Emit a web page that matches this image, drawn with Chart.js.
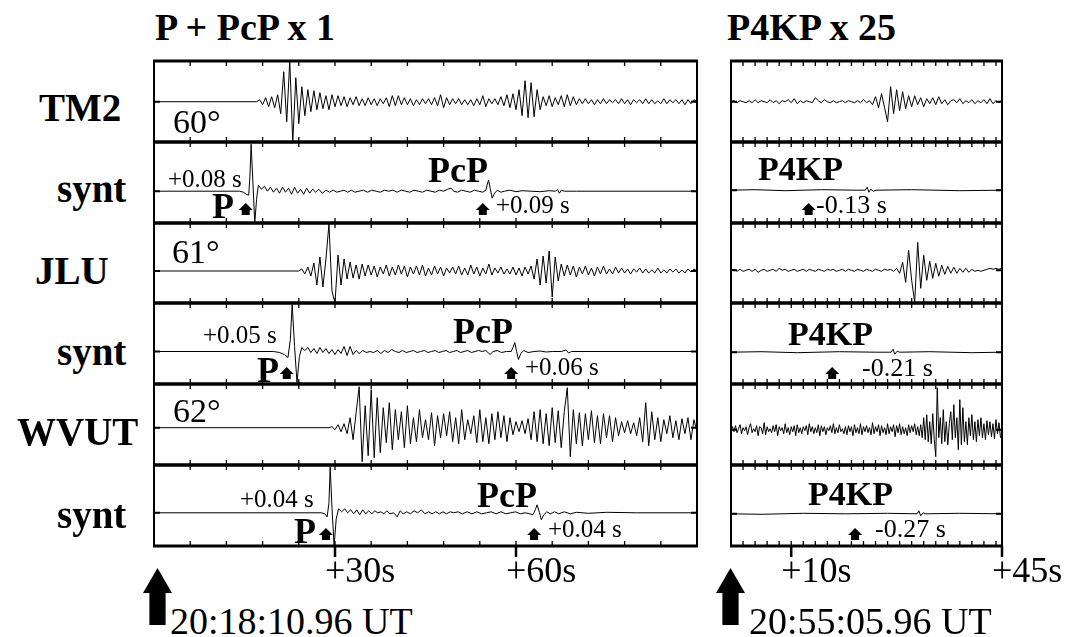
<!DOCTYPE html>
<html>
<head>
<meta charset="utf-8">
<script src="https://cdn.jsdelivr.net/npm/chart.js@4.4.1/dist/chart.umd.min.js"></script>
<style>
  body { margin: 0; background: #fff; }
  #fig { position: relative; width: 1074px; height: 637px; overflow: hidden;
         font-family: "Liberation Serif", "Times New Roman", serif; color: #000; }
  #fig canvas { position: absolute; }
  .t { position: absolute; white-space: nowrap; line-height: 1; }
  .bigArrow { position: absolute; background: #000;
              clip-path: polygon(50% 0, 100% 44%, 78% 44%, 78% 100%, 22% 100%, 22% 44%, 0 44%); }
</style>
</head>
<body>
<div id="fig"></div>
<script>
// ---- data: time axis labels ----
const leftTickVals = [30, 60];
const leftTickLabels = ['+30s', '+60s'];
const rightTickVals = [10, 45];
const rightTickLabels = ['+10s', '+45s'];

// ---- observed traces, P + PcP window (s after 20:18:10.96), sampled every 0.5 s ----
const tm2Start = 17;
const tm2Amp = [
  0, 2, -3, 4, -5, 5, -6, 7, -12, 30,
  -20, 41, -41, 24, -22, 15, -14, 12, -10, 11,
  -8, 9, -7, 6, -8, 7, -5, 6, -4, 5,
  -5, 4, -3, 5, -4, 3, -4, 4, -3, 3,
  -4, 3, -2, 4, -5, 6, -4, 6, -3, 4,
  -3, 3, -4, 2, -3, 3, -2, 3, -3, 4,
  -4, 7, -6, 4, -3, 3, -2, 3, -3, 2,
  -3, 2, -4, 3, -3, 6, -5, 3, -2, 3,
  -3, 5, -4, 7, -6, 8, -8, 12, -14, 21,
  -16, 19, -15, 12, -8, 5, -4, 6, -5, 4,
  -3, 6, -5, 7, -4, 5, -3, 3, -2, 3,
  -2, 2, -3, 2, -2, 3, -2, 2, -1, 2,
  -2, 3, -2, 2, -3, 2, -1, 2, -2, 3,
  -2, 2, -2, 1, -2, 3, -2, 2, -1, 2,
  -2, 2, -3, 2, -2, 2, 0
];
const jluStart = 24;
const jluAmp = [
  0, 2, -3, 4, -5, 8, -14, 14, -16, 12,
  47, -20, -32, 16, -14, 12, -8, 9, -7, 6,
  -8, 7, -5, 6, -4, 5, -6, 4, -3, 6,
  -5, 4, -4, 6, -3, 5, -6, 4, -3, 5,
  -4, 6, -5, 3, -4, 5, -3, 4, -5, 3,
  -2, 4, -3, 5, -4, 3, -4, 6, -3, 4,
  -5, 3, -3, 7, -4, 3, -2, 4, -3, 2,
  -3, 4, -4, 3, -5, 4, -3, 5, -8, 12,
  -14, 15, -12, 20, -26, 14, -10, 7, -5, 6,
  -4, 5, -6, 4, -3, 5, -4, 3, -5, 4,
  -3, 5, -3, 2, -3, 4, -2, 3, -2, 2,
  -3, 2, -1, 3, -2, 2, -2, 1, -2, 3,
  -2, 1, -2, 2, -1, 2, -2, 1, -2, 2,
  -1, 2, 0
];
const wvutStart = 29;
const wvutAmp = [
  0, 1, -2, 3, -4, 4, -6, 10, -12, 15,
  41, -34, 22, -28, 38, -30, 30, -25, 20, -15,
  25, -22, 18, -12, 16, -20, 22, -16, 10, -14,
  18, -10, 8, -12, 15, -18, 12, -10, 14, -8,
  16, -14, 10, -16, 18, -12, 8, -6, 12, -15,
  18, -14, 10, -16, 14, -12, 16, -10, 12, -14,
  10, -7, 6, -4, 7, -6, 9, -12, 16, -14,
  18, -16, 14, -18, 20, -15, 17, -20, 16, 40,
  -29, 18, -16, 15, -18, 14, -12, 17, -15, 12,
  -16, 14, -10, 12, -14, 10, -8, 6, -5, 7,
  -6, 5, -8, 10, -14, 25, -18, 16, -12, 10,
  -14, 8, -6, 12, -10, 7, -12, 9, -6, 10,
  -12, 8, -4
];

// ---- synthetics, P + PcP window: [time s, amplitude] ----
const syntTM2 = [
  [0, 0], [14.2, 0], [14.8, -1], [15.3, -3], [15.7, -4], [15.9, 15], [16.1, 47], [16.4, 8], [16.7, -32],
  [17.0, -8], [17.3, 6], [17.8, 2], [18.3, 5], [18.8, 0], [19.3, 4], [19.8, -1], [20.3, 3], [20.8, -2],
  [21.3, 4], [21.8, -1], [22.3, 3], [22.8, -3], [23.3, 4], [23.8, -2], [24.3, 2], [24.8, -3], [25.3, 3],
  [25.8, -2], [26.3, 2], [26.8, -1], [27.3, 2], [27.9, -2], [28.5, 1], [29.1, -1], [29.7, 1], [30.3, -1],
  [30.9, 0], [31.5, 1], [32.1, -1], [32.7, 1], [33.3, -1], [34.0, 0], [34.7, 1], [35.4, -1], [36.1, 1],
  [36.8, 0], [37.5, -1], [38.2, 1], [38.9, 0], [39.6, 1], [40.3, -1], [41.0, 1], [41.7, 0], [42.4, -1],
  [43.1, 1], [43.8, 0], [44.5, -1], [45.2, 1], [45.9, 0], [46.6, -1], [47.3, 1], [48.0, 0], [48.7, 2],
  [49.2, 3], [49.7, 0], [50.3, -1], [51.0, 1], [51.7, 0], [52.4, -1], [53.1, 1], [53.8, 0], [54.5, -1],
  [55.0, 1], [55.2, 6], [55.45, 11], [55.75, 2], [56.05, -7], [56.45, -2], [56.9, 1], [57.5, -1],
  [58.1, 0], [59, 1], [60, -0.5], [61, 0.5], [62.5, 0], [64, -0.5], [65.5, 0.5], [66.5, 0], [66.9, 1.5],
  [67.2, -2], [67.5, 1], [68, 0], [70, 0], [90, 0]
];
const syntJLU = [
  [0, 0], [19.8, 0], [20.8, -1], [21.6, -3], [22.2, -6], [22.6, 12], [22.9, 47], [23.3, 5], [23.7, -31],
  [24.1, -5], [24.5, 4], [25.0, 1], [25.5, 4], [26.0, -1], [26.5, 3], [27.0, -2], [27.5, 4], [28.0, -1],
  [28.5, 3], [29.0, -2], [29.5, 2], [30.0, -3], [30.5, 2], [31.0, -2], [31.5, 5], [32.0, -4], [32.5, 5],
  [33.0, -3], [33.5, 1], [34.0, -2], [34.6, 1], [35.2, -1], [35.8, 0], [36.4, -1], [37.0, 1], [37.6, -2],
  [38.2, 1], [38.8, -1], [39.4, 2], [40.0, 0], [40.6, -1], [41.2, 1], [41.8, -1], [42.4, 0], [43.0, 1],
  [43.6, -1], [44.2, 0], [44.8, 1], [45.4, -1], [46.0, 0], [46.6, 1], [47.2, -1], [47.8, 0], [48.4, 1],
  [49.0, -1], [49.6, 0], [50.2, 1], [50.8, -1], [51.4, 0], [52.0, 1], [52.6, -1], [53.2, 0], [53.8, 1],
  [54.4, 0], [55.0, 1], [55.7, -3], [56.2, 0], [56.9, 1], [57.6, -1], [58.4, 0], [59.2, 0], [59.5, 4],
  [59.8, 9], [60.1, 0], [60.4, -8], [60.8, -2], [61.3, 1], [62, -1], [63, 0], [64, 0.5], [65, -0.5],
  [66, 0], [67.5, 0], [68.3, 1.5], [68.7, -1.5], [69.2, 0], [90, 0]
];
const syntWVUT = [
  [0, 0], [27.8, 0], [28.3, -1], [28.7, -4], [29.0, 10], [29.2, 46], [29.5, 5], [29.85, -33], [30.2, -6],
  [30.6, 4], [31.1, 1], [31.6, 4], [32.1, 0], [32.6, 3], [33.1, -1], [33.6, 3], [34.1, -2], [34.6, 3],
  [35.1, -1], [35.6, 2], [36.1, -1], [36.6, 2], [37.1, 0], [37.6, 1], [38.1, -1], [38.6, 2], [39.1, -1],
  [39.7, 0], [40.3, -4], [40.8, 2], [41.3, -1], [41.9, 1], [42.5, -1], [43.1, 2], [43.7, 0], [44.3, 3],
  [44.9, -1], [45.5, 1], [46.1, -1], [46.7, 1], [47.3, -1], [47.9, 1], [48.5, -1], [49.1, 1], [49.7, 0],
  [50.4, 1], [51.1, -1], [51.9, 1], [52.7, -1], [53.5, 1], [54.3, -1], [55.1, 0], [55.9, 1], [56.7, -1],
  [57.5, 1], [58.3, -1], [59.1, 0], [59.9, 1], [60.7, -1], [61.5, 0], [62.3, -1], [62.8, -2], [63.2, 3],
  [63.5, 8], [63.9, 0], [64.2, -7], [64.6, -2], [65.1, 1], [65.7, -1], [66.4, 1], [67.1, -1], [68, 1],
  [69, -1], [70, 0.5], [72, -0.5], [75, 0.5], [80, 0], [90, 0]
];

// ---- observed traces, P4KP window (s after 20:55:05.96) ----
const tm2P4Amp = [ // every 0.5 s
  0, 1, -1, 1, 0, -1, 1, -1, 2, -1,
  1, 0, -1, 2, -1, 1, -2, 1, 0, 2,
  -1, 3, -2, 1, -1, 1, 0, -1, 4, 1,
  -1, 2, 0, -1, 1, -1, 0, 1, -1, 1,
  0, -1, 1, -1, 2, -1, 1, -3, 5, -6,
  8, -6, -20, 15, -12, 12, -9, 10, -7, 6,
  -5, 6, -3, 4, -5, 3, -2, 4, -3, 5,
  -2, 2, -3, 1, 2, -1, 3, -2, 1, -1,
  2, -2, 1, -1, 2, -2, 3, -2, 1, -1,
  2
];
const jluP4Amp = [ // every 0.5 s
  0, 1, -1, 1, -1, 0, 1, -1, 1, -2,
  0, 1, -1, 0, 1, -1, 2, 0, 1, -1,
  0, 1, -1, 0, 1, -1, 1, 0, -1, 1,
  0, -1, 1, 0, 1, -1, 0, 1, -1, 1,
  0, -1, 1, 0, -1, 1, 0, -1, 1, 0,
  -1, 1, 0, 1, -1, 2, -3, 8, -12, 20,
  -10, -32, 28, -18, 15, -10, 9, -8, 7, -6,
  5, -4, 4, -3, 3, -3, 2, -2, 2, -2,
  1, -1, 0, -1, 0, 1, 2, 1, 2, 1,
  2
];
const wvutP4Amp = [ // every 0.25 s
  0, 3, -2, 4, -3, 1, 5, -4, 2, -1, 3, -5, 2, 6, -3, 1, -2, 4, -6, 3,
  2, -4, 7, -5, 3, -2, 1, -3, 4, -2, 5, -6, 3, -1, 2, -4, 6, -3, 2, -5,
  3, -2, 4, -6, 5, -3, 2, -4, 3, -1, 4, -5, 6, -2, 3, -4, 2, -3, 5, -6,
  4, -2, 3, -5, 2, -1, 4, -3, 6, -4, 2, -3, 5, -2, 1, -4, 3, -5, 4, -2,
  3, -6, 5, -3, 2, -4, 6, -5, 3, -2, 4, -3, 2, -5, 7, -4, 3, -2, 5, -6,
  4, -3, 2, -5, 6, -4, 3, -2, 5, -7, 4, -3, 6, -5, 3, -4, 2, -6, 5, -3,
  4, -2, 6, -5, 3, -6, 5, -8, 12, -10, 15, -12, 8, -14, 16, -10, -27, 42, -8, 12,
  -14, 20, -12, 8, -15, 6, 18, -10, 25, -8, 12, -20, 30, -15, 22, -12, 8, -15, 12, -6,
  15, -10, 8, -12, 10, -6, 12, -8, 6, -10, 9, -5, 8, -7, 6, -9, 10, -4, 7, -8,
  -8
];

// ---- synthetics, P4KP window: [time s, amplitude] ----
const syntP4TM2 = [[0, 0], [4, 0.5], [9, -0.5], [15, 0.5], [21, 0], [22.3, 0], [22.6, 3], [22.9, -2], [23.2, 1], [23.6, -1], [24.1, 0], [30, 0.5], [38, -0.5], [45, 0]];
const syntP4JLU = [[0, 0], [5, 0.5], [11, -0.5], [18, 0.5], [24, 0], [26.6, 0], [26.9, 3], [27.2, -2], [27.6, 1], [28.0, 0], [33, 0.5], [40, -0.5], [45, 0]];
const syntP4WVUT = [[0, 0], [5, -0.5], [12, 0.5], [19, 0], [26, 0.5], [30.9, 0], [31.2, 3], [31.5, -2], [31.9, 1], [32.3, 0], [38, 0.5], [45, 0]];

// ---- predicted arrival arrows (s) ----
const pcpArrows = [[15.2, 54.5], [22.0, 59.2], [28.5, 63.0]];
const p4kpArrows = [[12.9], [16.8], [20.6]];

// ---- helpers ----
const fig = document.getElementById('fig');
const sampled = (start, dt, amp) => {
  const pts = start > 0 ? [{ x: 0, y: 0 }] : [];
  amp.forEach((a, i) => pts.push({ x: start + i * dt, y: a }));
  return pts;
};
const paired = arr => arr.map(([x, y]) => ({ x, y }));

const rowEdges = [61, 142, 223, 303, 384, 465, 546];
const panels = {
  left: { x0: 154, x1: 697, tmax: 90, step: 6, base: [40.7, 49.2, 48, 48.5, 43.7, 47.8],
          ticks: leftTickVals, labels: leftTickLabels },
  right: { x0: 731, x1: 1002, tmax: 45, step: 2, base: [40.7, 48.2, 47.3, 49.2, 45.7, 48.8],
           ticks: rightTickVals, labels: rightTickLabels }
};
const arrowTip = [0, 61, 0, 64, 0, 63];

const framePlugin = {
  id: 'frame',
  afterDatasetsDraw(chart, args, o) {
    const { ctx, chartArea: a } = chart;
    const x = chart.scales.x, y = chart.scales.y;
    ctx.save();
    ctx.strokeStyle = '#000';
    ctx.fillStyle = '#000';
    // inward ticks
    ctx.lineWidth = 1.3;
    ctx.beginPath();
    for (let t = o.step; t < o.tmax - 0.01; t += o.step) {
      const px = x.getPixelForValue(t);
      ctx.moveTo(px, a.top); ctx.lineTo(px, a.top + 5);
      ctx.moveTo(px, a.bottom); ctx.lineTo(px, a.bottom - 5);
    }
    ctx.stroke();
    // zero marks on both sides
    const y0 = y.getPixelForValue(0);
    ctx.lineWidth = 2;
    ctx.beginPath();
    ctx.moveTo(a.left, y0); ctx.lineTo(a.left + 6, y0);
    ctx.moveTo(a.right - 6, y0); ctx.lineTo(a.right, y0);
    ctx.stroke();
    // box
    ctx.lineWidth = 2.8;
    ctx.beginPath();
    ctx.moveTo(a.left - 1, a.top); ctx.lineTo(a.right + 1, a.top);
    ctx.moveTo(a.left - 1, a.bottom); ctx.lineTo(a.right + 1, a.bottom);
    ctx.stroke();
    ctx.lineWidth = 2;
    ctx.beginPath();
    ctx.moveTo(a.left, a.top); ctx.lineTo(a.left, a.bottom);
    ctx.moveTo(a.right, a.top); ctx.lineTo(a.right, a.bottom);
    ctx.stroke();
    // arrival arrows
    (o.arrows || []).forEach(t => {
      const cx = x.getPixelForValue(t), ty = a.top + o.tip;
      ctx.beginPath();
      ctx.moveTo(cx, ty); ctx.lineTo(cx + 7, ty + 7); ctx.lineTo(cx + 4, ty + 7);
      ctx.lineTo(cx + 4, ty + 12); ctx.lineTo(cx - 4, ty + 12); ctx.lineTo(cx - 4, ty + 7);
      ctx.lineTo(cx - 7, ty + 7); ctx.closePath();
      ctx.fill();
    });
    // long time ticks under the last row
    if (o.longTicks) {
      ctx.lineWidth = 2.5;
      ctx.beginPath();
      o.longTicks.forEach(t => {
        const px = x.getPixelForValue(t);
        ctx.moveTo(px, a.bottom); ctx.lineTo(px, a.bottom + 11);
      });
      ctx.stroke();
    }
    ctx.restore();
  }
};

function addText(txt, left, base, size, bold) {
  const d = document.createElement('div');
  d.className = 't';
  d.textContent = txt;
  d.style.left = left + 'px';
  d.style.top = (base - 0.8375 * size) + 'px';
  d.style.fontSize = size + 'px';
  d.style.fontWeight = bold ? 'bold' : 'normal';
  fig.appendChild(d);
}

function addTrace(p, row, points, arrows) {
  const pad = 4, padB = row === 5 ? 16 : 4;
  const top = rowEdges[row], h = rowEdges[row + 1] - top;
  const w = p.x1 - p.x0;
  const cv = document.createElement('canvas');
  cv.width = w + 2 * pad;
  cv.height = h + pad + padB;
  cv.style.left = (p.x0 - pad) + 'px';
  cv.style.top = (top - pad) + 'px';
  fig.appendChild(cv);
  const base = p.base[row];
  const chart = new Chart(cv, {
    type: 'line',
    data: { datasets: [{ data: points, borderColor: '#000', borderWidth: 1, pointRadius: 0, tension: 0, fill: false }] },
    options: {
      responsive: false, animation: false, events: [], devicePixelRatio: 1,
      layout: { padding: { left: pad, right: pad, top: pad, bottom: padB } },
      scales: {
        x: { type: 'linear', min: 0, max: p.tmax, display: false },
        y: { min: base - h, max: base, display: false }
      },
      plugins: {
        legend: { display: false }, tooltip: { enabled: false },
        frame: { step: p.step, tmax: p.tmax, arrows: arrows, tip: arrowTip[row],
                 longTicks: row === 5 ? p.ticks : null }
      }
    },
    plugins: [framePlugin]
  });
  if (row === 5) {
    p.ticks.forEach((v, i) => addText(p.labels[i], p.x0 - pad + chart.scales.x.getPixelForValue(v) - 10, 582, 36, false));
  }
}

// ---- left panel ----
const L = panels.left;
addTrace(L, 0, sampled(tm2Start, 0.5, tm2Amp));
addTrace(L, 1, paired(syntTM2), pcpArrows[0]);
addTrace(L, 2, sampled(jluStart, 0.5, jluAmp));
addTrace(L, 3, paired(syntJLU), pcpArrows[1]);
addTrace(L, 4, sampled(wvutStart, 0.5, wvutAmp));
addTrace(L, 5, paired(syntWVUT), pcpArrows[2]);

// ---- right panel ----
const R = panels.right;
addTrace(R, 0, sampled(0, 0.5, tm2P4Amp));
addTrace(R, 1, paired(syntP4TM2), p4kpArrows[0]);
addTrace(R, 2, sampled(0, 0.5, jluP4Amp));
addTrace(R, 3, paired(syntP4JLU), p4kpArrows[1]);
addTrace(R, 4, sampled(0, 0.25, wvutP4Amp));
addTrace(R, 5, paired(syntP4WVUT), p4kpArrows[2]);

// ---- text ----
const texts = [
  ['P + PcP x 1', 155, 40, 38, 1], ['P4KP x 25', 727, 40, 38, 1],
  ['TM2', 39, 121, 39, 1], ['synt', 57, 202, 39, 1], ['JLU', 35, 284, 39, 1],
  ['synt', 57, 365, 39, 1], ['WVUT', 17, 445, 39, 1], ['synt', 57, 528, 39, 1],
  ['60°', 173, 133, 34, 0], ['61°', 172, 263, 34, 0], ['62°', 173, 422, 34, 0],
  ['+0.08 s', 168, 187, 25, 0], ['P', 212, 218, 36, 1], ['PcP', 428, 182, 36, 1], ['+0.09 s', 496, 213, 25, 0],
  ['+0.05 s', 203, 343, 25, 0], ['P', 257, 382, 36, 1], ['PcP', 453, 343, 36, 1], ['+0.06 s', 525, 375, 25, 0],
  ['+0.04 s', 240, 507, 25, 0], ['P', 294, 543, 36, 1], ['PcP', 477, 507, 36, 1], ['+0.04 s', 548, 537, 25, 0],
  ['P4KP', 758, 180, 34, 1], ['-0.13 s', 816, 214, 26, 0],
  ['P4KP', 788, 345, 34, 1], ['-0.21 s', 862, 377, 26, 0],
  ['P4KP', 808, 505, 34, 1], ['-0.27 s', 875, 538, 26, 0],
  ['20:18:10.96 UT', 170, 634, 38, 0], ['20:55:05.96 UT', 749, 634, 38, 0]
];
texts.forEach(t => addText(...t));

// start-time arrows
[[143, 568], [716, 568]].forEach(([l, t]) => {
  const d = document.createElement('div');
  d.className = 'bigArrow';
  d.style.cssText = `left:${l}px;top:${t}px;width:29px;height:57px;`;
  fig.appendChild(d);
});
</script>
</body>
</html>
